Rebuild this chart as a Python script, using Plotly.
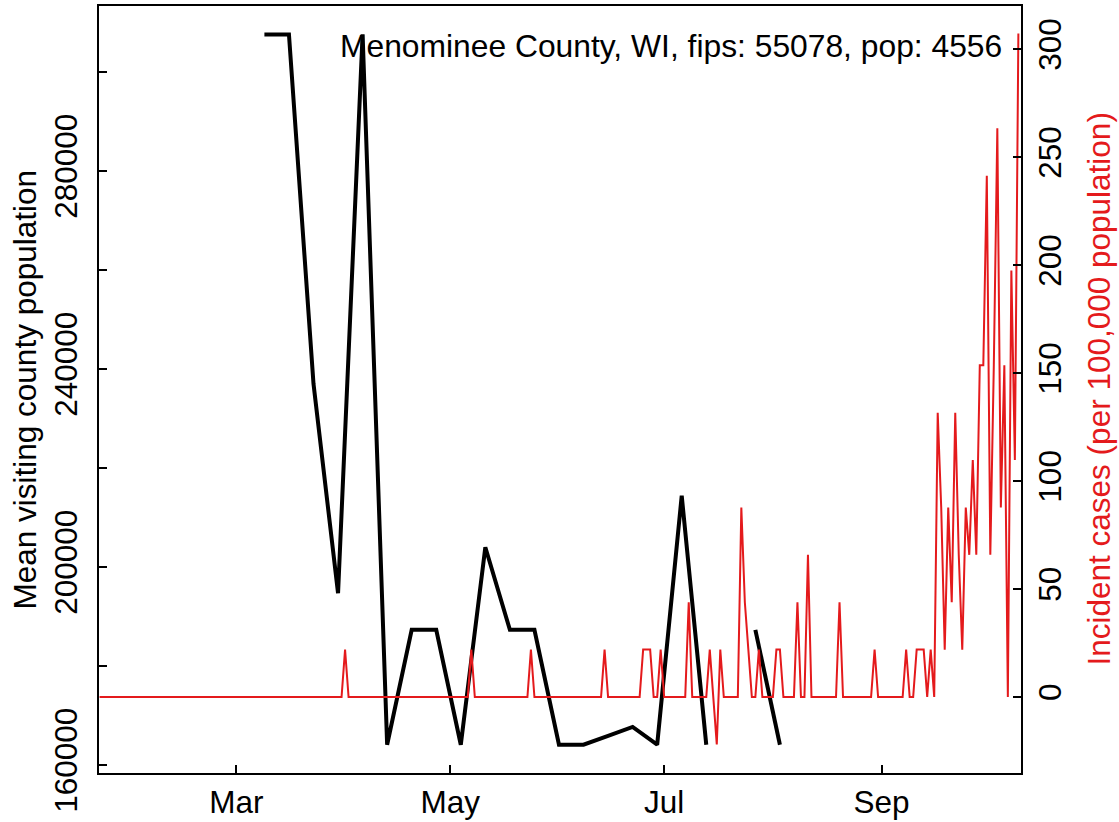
import datetime as dt
import plotly.graph_objects as go

# ---------------- data ----------------
county_label = "Menominee County, WI, fips: 55078, pop: 4556"
population = 4556

# weekly mean visiting county population (black line)
mob_dates = ["2020-03-09", "2020-03-16", "2020-03-23", "2020-03-30", "2020-04-06",
             "2020-04-13", "2020-04-20", "2020-04-27", "2020-05-04", "2020-05-11",
             "2020-05-18", "2020-05-25", "2020-06-01", "2020-06-08", "2020-06-15",
             "2020-06-22", "2020-06-29", "2020-07-06", "2020-07-13", "2020-07-20",
             "2020-07-27", "2020-08-03"]
mob_values = [307600, 307600, 237000, 194700, 307600,
              164100, 187300, 187300, 164100, 204000,
              187300, 187300, 164100, 164100, 165900,
              167700, 164100, 214400, 164100, None,
              187300, 164100]

# daily new cases (one case = 21.95 per 100k)
cases_jan = [0, 0, 0, 0, 0, 0, 0, 0, 0, 0]  # Jan 22-31
cases_feb = [0, 0, 0, 0, 0, 0, 0, 0, 0, 0, 0, 0, 0, 0, 0, 0, 0, 0, 0, 0,
             0, 0, 0, 0, 0, 0, 0, 0, 0]
cases_mar = [0, 0, 0, 0, 0, 0, 0, 0, 0, 0, 0, 0, 0, 0, 0, 0, 0, 0, 0, 0,
             0, 0, 0, 0, 0, 0, 0, 0, 0, 0, 0]
cases_apr = [1, 0, 0, 0, 0, 0, 0, 0, 0, 0, 0, 0, 0, 0, 0, 0, 0, 0, 0, 0,
             0, 0, 0, 0, 0, 0, 0, 0, 0, 0]
cases_may = [0, 0, 0, 0, 0, 0, 1, 0, 0, 0, 0, 0, 0, 0, 0, 0, 0, 0, 0, 0,
             0, 0, 0, 1, 0, 0, 0, 0, 0, 0, 0]
cases_jun = [0, 0, 0, 0, 0, 0, 0, 0, 0, 0, 0, 0, 0, 1, 0, 0, 0, 0, 0, 0,
             0, 0, 0, 0, 1, 1, 1, 0, 0, 1]
cases_jul = [0, 0, 0, 0, 0, 0, 0, 2, 0, 0, 0, 0, 0, 1, 0, -1, 1, 0, 0, 0,
             0, 0, 4, 2, 1, 0, 0, 1, 0, 0, 0]
cases_aug = [0, 1, 1, 0, 0, 0, 0, 2, 0, 0, 3, 0, 0, 0, 0, 0, 0, 0, 0, 2,
             0, 0, 0, 0, 0, 0, 0, 0, 0, 1, 0]
cases_sep = [0, 0, 0, 0, 0, 0, 0, 1, 0, 0, 1, 1, 1, 0, 1, 0, 6, 4, 1, 4,
             2, 6, 3, 1, 4, 3, 5, 3, 7, 7]
cases_oct = [11, 3, 7, 12, 4, 7, 0, 9, 5, 14]  # Oct 1-10

month_tick_vals = ["2020-03-01", "2020-05-01", "2020-07-01", "2020-09-01"]
month_tick_text = ["Mar", "May", "Jul", "Sep"]
left_tick_vals = [160000, 180000, 200000, 220000, 240000, 260000, 280000, 300000]
left_tick_text = ["160000", "", "200000", "", "240000", "", "280000", ""]
right_tick_vals = [0, 50, 100, 150, 200, 250, 300]

# ---------------- assemble ----------------
daily_cases = (cases_jan + cases_feb + cases_mar + cases_apr + cases_may +
               cases_jun + cases_jul + cases_aug + cases_sep + cases_oct)
start = dt.date(2020, 1, 22)
case_dates = [start + dt.timedelta(days=i) for i in range(len(daily_cases))]
incidence = [c * 100000.0 / population for c in daily_cases]

FONT = "Liberation Sans, Arial, Helvetica, sans-serif"
FS = 31.5
RED = "#E41A1C"

fig = go.Figure()
fig.add_trace(go.Scatter(x=mob_dates, y=mob_values, mode="lines",
                         line=dict(color="black", width=4),
                         connectgaps=False, showlegend=False, yaxis="y"))
fig.add_trace(go.Scatter(x=case_dates, y=incidence, mode="lines",
                         line=dict(color=RED, width=2),
                         showlegend=False, yaxis="y2"))

axis_common = dict(showgrid=False, zeroline=False, showline=True,
                   linecolor="black", linewidth=2, ticks="inside",
                   ticklen=8, tickwidth=2, tickcolor="black", automargin=False,
                   tickfont=dict(family=FONT, size=FS, color="black"))

fig.update_layout(
    width=1119, height=822,
    margin=dict(l=99, r=98, t=6, b=49),
    paper_bgcolor="white", plot_bgcolor="white",
    xaxis=dict(type="date",
               range=["2020-01-21 20:00", "2020-10-10 18:00"],
               tickmode="array", tickvals=month_tick_vals, ticktext=month_tick_text,
               mirror=True, ticklabelstandoff=0, **axis_common),
    yaxis=dict(range=[158384, 313333], tickmode="array",
               tickvals=left_tick_vals, ticktext=left_tick_text,
               tickangle=-90, ticklabelstandoff=7, **axis_common),
    yaxis2=dict(range=[-35.2, 320.05], overlaying="y", side="right",
                tickmode="array", tickvals=right_tick_vals,
                tickangle=-90, ticklabelstandoff=0, **axis_common),
    annotations=[
        dict(text=county_label, xref="paper", yref="paper", x=1, y=0.948,
             xanchor="right", yanchor="middle", xshift=-17, showarrow=False,
             font=dict(family=FONT, size=31.8, color="black")),
        dict(text="Mean visiting county population", xref="paper", yref="paper",
             x=0, y=0.5, xanchor="center", yanchor="middle", xshift=-75,
             textangle=-90, showarrow=False,
             font=dict(family=FONT, size=FS, color="black")),
        dict(text="Incident cases (per 100,000 population)", xref="paper",
             yref="paper", x=1, y=0.5, xanchor="center", yanchor="middle",
             xshift=77, textangle=-90, showarrow=False,
             font=dict(family=FONT, size=FS, color=RED)),
    ],
)

fig.write_html("out.html", config={"displayModeBar": False},
               post_script="document.body.style.margin='0';document.body.style.padding='0';")
